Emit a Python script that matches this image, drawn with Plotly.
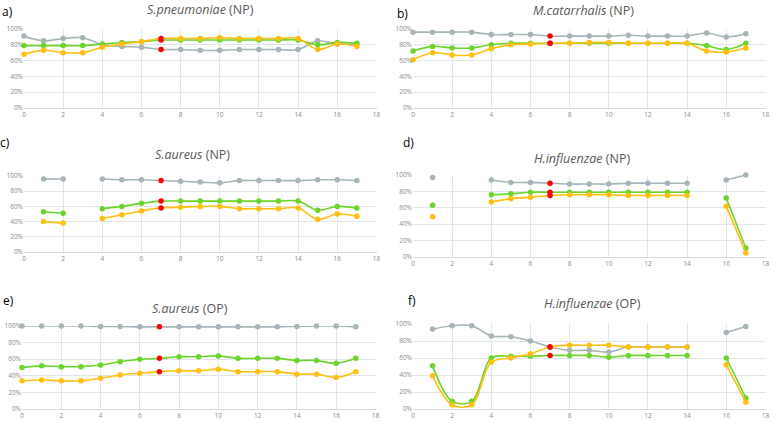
import plotly.graph_objects as go

WEEKS = list(range(18))

LABELS = ['a)', 'b)', 'c)', 'd)', 'e)', 'f)']
TITLES = ['<i>S.pneumoniae</i> (NP)', '<i>M.catarrhalis</i> (NP)',
          '<i>S.aureus</i> (NP)', '<i>H.influenzae</i> (NP)',
          '<i>S.aureus</i> (OP)', '<i>H.influenzae</i> (OP)']
Y_TICKS = [0, 20, 40, 60, 80, 100]
Y_TICK_TEXT = ['0%', '20%', '40%', '60%', '80%', '100%']
X_TICKS = [0, 2, 4, 6, 8, 10, 12, 14, 16, 18]

# a) S.pneumoniae (NP)
gray_a = [91, 85, 88, 89, 80, 78, 77, 74, 74, 73, 73, 74, 74, 74, 74, 85, 81, 81]
green_a = [79, 79, 79, 79, 81, 83, 84, 86, 86, 86, 86, 86, 86, 86, 86, 80, 83, 82]
orange_a = [68, 73, 70, 70, 77, 81, 84, 88, 88, 88, 89, 88, 88, 88, 88, 74, 81, 78]

# b) M.catarrhalis (NP)
gray_b = [96, 96, 96, 96, 93, 93, 93, 91, 91, 91, 91, 92, 91, 91, 91, 95, 90, 94]
green_b = [72, 78, 76, 76, 80, 82, 82, 82, 82, 82, 82, 82, 82, 82, 82, 79, 74, 82]
orange_b = [61, 70, 67, 67, 75, 80, 81, 82, 82, 83, 83, 82, 82, 82, 82, 72, 71, 76]

# c) S.aureus (NP)
gray_c = [None, 96, 96, None, 96, 95, 95, 94, 93, 92, 91, 94, 94, 94, 94, 95, 95, 94]
green_c = [None, 53, 51, None, 57, 60, 64, 67, 67, 67, 67, 67, 67, 67, 67, 55, 60, 58]
orange_c = [None, 40, 38, None, 44, 49, 54, 58, 59, 60, 60, 57, 57, 57, 58, 43, 50, 47]

# d) H.influenzae (NP)
gray_d = [None, 97, None, None, 94, 91, 91, 90, 89, 89, 89, 90, 90, 90, 90, None, 94, 100]
green_d = [None, 63, None, None, 76, 77, 79, 79, 79, 79, 79, 79, 79, 79, 79, None, 72, 11]
orange_d = [None, 49, None, None, 67, 71, 73, 75, 76, 76, 76, 75, 75, 75, 75, None, 62, 5]

# e) S.aureus (OP)
gray_e = [100, 100, 100, 100, 99.5, 99.5, 99, 99, 99, 99, 99, 99, 99, 99, 99.5, 100, 100, 99]
green_e = [50, 52, 51, 51, 53, 57, 60, 61, 63, 63, 64, 61, 61, 61, 58.5, 58.5, 55, 61]
orange_e = [34, 35, 34, 34, 37, 41, 43, 45, 46, 46, 48, 45, 45, 45, 42, 42, 38, 45]

# f) H.influenzae (OP)
gray_f = [None, 94, 98, 98, 86, 85, 80, 73, 69, 69, 67, 73, 73, 73, 73, None, 90, 97]
green_f = [None, 51, 9, 9, 60, 62, 62, 63, 63, 63, 61, 63, 63, 63, 63, None, 60, 13]
orange_f = [None, 39, 5, 5, 55, 60, 65, 73, 75, 75, 75, 73, 73, 73, 73, None, 52, 8]

SERIES = [
    (gray_a, green_a, orange_a), (gray_b, green_b, orange_b),
    (gray_c, green_c, orange_c), (gray_d, green_d, orange_d),
    (gray_e, green_e, orange_e), (gray_f, green_f, orange_f),
]
HIGHLIGHT_WEEK = 7

COLORS = ['#a7b5b9', '#6cd42a', '#ffbf10']
RED = '#ff0000'
GRID = '#e3e6e6'
TICK_FONT = dict(family='Open Sans', size=6.5, color='#8c8c8c')

W, H = 775, 422

# plot areas in pixels: (x0, x1, y_top, y_bottom)
BOXES = [(24, 377, 29, 108), (413, 766, 29, 108),
         (24, 377, 176, 252), (413, 766, 175, 257),
         (22, 376, 326, 409), (413, 766, 324, 409)]
TITLE_POS = [(200, 9), (583, 10), (192, 155), (582, 158), (190, 308), (592, 303)]
LABEL_POS = [(7, 12), (402, 13), (5, 142), (408, 142), (8, 300), (412, 300)]

fig = go.Figure()
layout = {}
annotations = []

for i, (series, box) in enumerate(zip(SERIES, BOXES)):
    n = '' if i == 0 else str(i + 1)
    for values, color in zip(series, COLORS):
        marker_colors = [RED if w == HIGHLIGHT_WEEK else color for w in WEEKS]
        fig.add_trace(go.Scatter(
            x=WEEKS, y=values, mode='lines+markers',
            xaxis='x' + n, yaxis='y' + n,
            line=dict(color=color, width=1.6, shape='spline', smoothing=1.0),
            marker=dict(color=marker_colors, size=5.5),
            connectgaps=False, cliponaxis=False,
            showlegend=False, hoverinfo='x+y'))

    x0, x1, yt, yb = box
    # tiny pad past 18 so the last tick label is kept
    layout['xaxis' + n] = dict(
        domain=[x0 / W, x1 / W], range=[0, 18.03], anchor='y' + n,
        tickvals=X_TICKS, showgrid=True, gridcolor=GRID, gridwidth=1,
        showline=True, linecolor='#d9d9d9', zeroline=False,
        ticks='', ticklabelstandoff=0, ticklabeloverflow='allow',
        tickfont=TICK_FONT, automargin=False, fixedrange=True)
    layout['yaxis' + n] = dict(
        domain=[1 - yb / H, 1 - yt / H], range=[0, 100], anchor='x' + n,
        tickvals=Y_TICKS, ticktext=Y_TICK_TEXT, showgrid=True, gridcolor=GRID,
        gridwidth=1, showline=False, zeroline=False, ticks='',
        ticklabelstandoff=0, ticklabeloverflow='allow', tickfont=TICK_FONT,
        automargin=False, fixedrange=True)

    tx, ty = TITLE_POS[i]
    annotations.append(dict(
        x=tx / W, y=1 - ty / H, xref='paper', yref='paper', text=TITLES[i],
        showarrow=False, xanchor='center', yanchor='middle',
        font=dict(family='Open Sans', size=12.5, color='#595959')))
    lx, ly = LABEL_POS[i]
    annotations.append(dict(
        x=lx / W, y=1 - ly / H, xref='paper', yref='paper', text=LABELS[i],
        showarrow=False, xanchor='center', yanchor='middle',
        font=dict(family='Open Sans', size=12, color='#000000')))

fig.update_layout(
    width=W, height=H, margin=dict(l=0, r=0, t=0, b=0),
    paper_bgcolor='white', plot_bgcolor='white',
    annotations=annotations, **layout)

# drop the browser's default 8px body margin so the figure fills the window
fig.write_html("out.html", config={'displayModeBar': False},
               post_script="document.body.style.margin = '0';")
